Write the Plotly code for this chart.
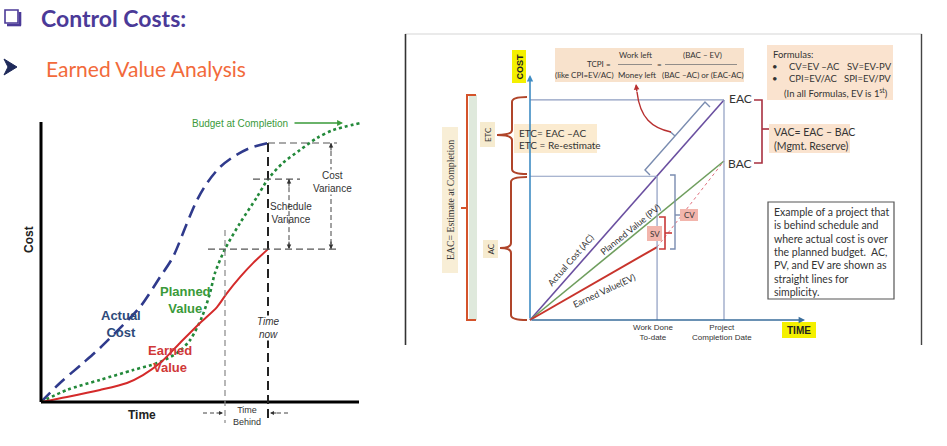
import plotly.graph_objects as go

# ---------------- Left chart data (S-curves; time in weeks, cost in % of budget) ----------------
s_ac_time = [0, 1.9, 4.2, 5.9, 7.9, 9.9, 11.9, 13.2, 14.6, 15.6, 16.6, 17.9, 19.2, 20.9, 22.7]
s_ac_cost = [0, 6.8, 13.9, 19.3, 26.4, 33.9, 44.6, 51.8, 63.9, 72.1, 78.2, 83.9, 87.5, 90.7, 92.5]
s_pv_time = [0, 2.6, 5.9, 9.2, 11.6, 13.6, 14.9, 16.1, 16.9, 17.4, 18.4, 19.9, 21.6, 22.7, 24.2, 25.9, 27.6, 29.2, 31.9]
s_pv_cost = [0, 4.3, 7.9, 11.4, 13.9, 17.5, 22.1, 30.4, 38.9, 46.1, 54.6, 63.9, 73.2, 79.6, 85.4, 90.0, 94.3, 97.1, 99.6]
s_ev_time = [0, 2.6, 5.9, 8.6, 10.2, 11.9, 13.9, 15.9, 17.6, 18.6, 19.9, 21.2, 22.7]
s_ev_cost = [0, 1.8, 4.3, 6.8, 9.6, 13.9, 21.1, 28.2, 33.9, 38.9, 44.6, 49.6, 54.6]
s_time_now = 22.7
s_time_behind = 18.4
s_labels = ["Actual<br>Cost", "Planned<br>Value", "Earned<br>Value"]

# ---------------- Right chart data (straight-line illustration) ----------------
r_time = [0, 6.55, 10]          # start, work done to date, project completion
r_ac = [0, 90.4, 138.4]         # actual cost -> EAC
r_pv = [0, 65.5, 100]           # planned value -> BAC
r_ev_time = [0, 6.55]
r_ev = [0, 45.9]
r_fc_time = [6.55, 10]
r_fc = [45.9, 100]
r_line_labels = ["Actual Cost (AC)", "Planned Value (PV)", "Earned Value(EV)"]

W, H = 947, 446

# pixel -> axis-unit helpers used only to place decorations
def LX(px): return (px - 41) / 10.0
def LY(py): return (402 - py) / 2.8
def RX(px): return (px - 530) / 19.4
def RY(py): return (320 - py) / 1.59
def PX(px): return px / W
def PY(py): return 1 - py / H

REF = {"l": ("x", "y", LX, LY), "r": ("x2", "y2", RX, RY), "p": ("paper", "paper", PX, PY)}
NPTS = {"M": 1, "L": 1, "Q": 2, "C": 3}

shapes, anns = [], []

def seg(ref, x0, y0, x1, y1, color, width=1.0, dash=None, pix=True):
    xr, yr, fx, fy = REF[ref]
    if pix:
        x0, x1, y0, y1 = fx(x0), fx(x1), fy(y0), fy(y1)
    shapes.append(dict(type="line", xref=xr, yref=yr, x0=x0, y0=y0, x1=x1, y1=y1,
                       line=dict(color=color, width=width, dash=dash)))

def box(ref, x0, y0, x1, y1, fill, line=None, lw=0, layer="above"):
    xr, yr, fx, fy = REF[ref]
    shapes.append(dict(type="rect", xref=xr, yref=yr, x0=fx(x0), y0=fy(y0), x1=fx(x1), y1=fy(y1),
                       fillcolor=fill, layer=layer,
                       line=dict(color=line or fill, width=lw)))

def path(ref, cmds, color, width=1.5, fill=None):
    xr, yr, fx, fy = REF[ref]
    s = ""
    for c, pts in cmds:
        n = NPTS[c]
        for i in range(0, len(pts), n):
            grp = pts[i:i + n]
            s += c + " " + " ".join("%.5f,%.5f" % (fx(x), fy(y)) for x, y in grp) + " "
    if fill:
        s += "Z"
    shapes.append(dict(type="path", xref=xr, yref=yr, path=s.strip(), fillcolor=fill,
                       line=dict(color=color, width=width)))

def txt(ref, text, x, y, size=10, color="#333", family="Liberation Sans", xanchor="center",
        angle=0, bg=None, pix=True, yanchor="middle"):
    xr, yr, fx, fy = REF[ref]
    if pix:
        x, y = fx(x), fy(y)
    anns.append(dict(text=text, x=x, y=y, xref=xr, yref=yr, showarrow=False, xanchor=xanchor,
                     yanchor=yanchor, textangle=angle, bgcolor=bg, borderpad=0,
                     font=dict(size=size, color=color, family=family)))

def arrow(ref, x, y, ax, ay, color, width=1.0, head=2, size=1.0, pix=True, axpix=False):
    xr, yr, fx, fy = REF[ref]
    if pix:
        x, y = fx(x), fy(y)
        if not axpix:
            ax, ay = fx(ax), fy(ay)
    d = dict(text="", x=x, y=y, xref=xr, yref=yr, ax=ax, ay=ay, showarrow=True,
             arrowhead=head, arrowsize=size, arrowwidth=width, arrowcolor=color)
    if not axpix:
        d.update(axref=xr, ayref=yr)
    anns.append(d)

fig = go.Figure()

# ---------------- traces: left chart ----------------
fig.add_trace(go.Scatter(x=s_ac_time, y=s_ac_cost, mode="lines", xaxis="x", yaxis="y",
                         line=dict(color="#2f3a8c", width=2.6, dash="13px,7px", shape="spline", smoothing=0.8)))
fig.add_trace(go.Scatter(x=s_pv_time, y=s_pv_cost, mode="lines", xaxis="x", yaxis="y",
                         line=dict(color="#23893a", width=2.6, dash="3px,3px", shape="spline", smoothing=0.8)))
fig.add_trace(go.Scatter(x=s_ev_time, y=s_ev_cost, mode="lines", xaxis="x", yaxis="y",
                         line=dict(color="#d42a2a", width=2, shape="spline", smoothing=0.8)))

# ---------------- traces: right chart ----------------
fig.add_trace(go.Scatter(x=r_time, y=r_ac, mode="lines", xaxis="x2", yaxis="y2",
                         line=dict(color="#6a4fa0", width=1.6)))
fig.add_trace(go.Scatter(x=r_time, y=r_pv, mode="lines", xaxis="x2", yaxis="y2",
                         line=dict(color="#6f9e5e", width=1.6)))
fig.add_trace(go.Scatter(x=r_ev_time, y=r_ev, mode="lines", xaxis="x2", yaxis="y2",
                         line=dict(color="#c8342c", width=2)))
fig.add_trace(go.Scatter(x=r_fc_time, y=r_fc, mode="lines", xaxis="x2", yaxis="y2",
                         line=dict(color="#e0707e", width=1, dash="3px,3px")))

# ---------------- header ----------------
box("p", 5, 10, 18, 23, "rgba(0,0,0,0)", "#4b3a98", 1.6)
seg("p", 20, 12, 20, 25.5, "#4b3a98", 2.6)
seg("p", 7, 25, 21, 25, "#4b3a98", 2.6)
txt("p", "<b>Control Costs:</b>", 40, 18, size=23, color="#4b3a98", family="Lato", xanchor="left")
path("p", [("M", [(4, 59)]), ("L", [(17, 67), (4, 75), (8, 67)])], "#1f2a5a", 1, fill="#1f2a5a")
txt("p", "Earned Value Analysis", 45, 68, size=21, color="#f26a3b", family="Lato", xanchor="left")

# ---------------- left chart decorations ----------------
seg("l", 0, 0, 0, 100, "black", 3, pix=False)
seg("l", 0, 0, LX(359), 0, "black", 3, pix=False)

ac_now = s_ac_cost[-1]
ev_now = s_ev_cost[-1]
pv_now = s_pv_cost[s_pv_time.index(s_time_now)]

seg("l", s_time_now, ac_now, s_time_now, LY(423), "#222", 2, "9px,5px", pix=False)
seg("l", s_time_behind, LY(230), s_time_behind, LY(423), "#888", 1.2, "6px,4px", pix=False)
seg("l", s_time_now, ac_now, LX(337), ac_now, "#555", 1.2, "7px,4px", pix=False)
seg("l", LX(253), pv_now, LX(300), pv_now, "#555", 1.2, "7px,4px", pix=False)
seg("l", LX(208), ev_now, LX(337), ev_now, "#555", 1.2, "7px,4px", pix=False)
# cost variance / schedule variance double arrows
for xv, ytop in [(LX(331), ac_now), (LX(289), pv_now)]:
    seg("l", xv, ytop, xv, ev_now, "#444", 1, "5px,3px", pix=False)
    arrow("l", xv, ytop, 0, 9, "#333", 1, 2, 0.9, pix=False, axpix=True)
    arrow("l", xv, ev_now, 0, -9, "#333", 1, 2, 0.9, pix=False, axpix=True)

txt("l", "<b>Cost</b>", 29, 240, size=12, color="#222", angle=-90)
txt("l", "<b>Time</b>", 142, 415, size=12, color="#222")
txt("l", "Budget at Completion", 240, 123, size=10, color="#3a9a3a")
arrow("l", 343, 123, 293, 123, "#3a9a3a", 1.3, 2, 0.9)
txt("l", "<b>" + s_labels[0] + "</b>", 121, 324, size=13, color="#2e4a7a")
txt("l", "<b>" + s_labels[1] + "</b>", 185, 300, size=13, color="#3a9a3a")
txt("l", "<b>" + s_labels[2] + "</b>", 170, 359, size=13, color="#d03838")
txt("l", "Cost<br>Variance", 332, 182, size=10, color="#333", bg="white")
txt("l", "Schedule<br>Variance", 291, 213, size=10, color="#333")
txt("l", "<i>Time<br>now</i>", 268, 328, size=10, color="#333", bg="white")
txt("l", "Time<br>Behind", 247, 416, size=9, color="#333")
seg("l", 203, 413, 216, 413, "#444", 1, "4px,3px")
arrow("l", 223, 413, 215, 413, "#333", 1, 2, 0.8)
seg("l", 288, 413, 276, 413, "#444", 1, "4px,3px")
arrow("l", 270, 413, 278, 413, "#333", 1, 2, 0.8)

# ---------------- right chart decorations ----------------
seg("p", 405, 34, 922, 34, "#d6d6d6", 1.2)
seg("p", 405.5, 34, 405.5, 345, "#333", 1.6)
seg("p", 921.5, 34, 921.5, 345, "#444", 1.4)

grid = "#8d9cc0"
seg("r", 0, r_ac[-1], r_time[-1], r_ac[-1], grid, 1.2, pix=False)
seg("r", r_time[-1], 0, r_time[-1], r_ac[-1], grid, 1.2, pix=False)
seg("r", 0, r_ac[1], r_time[1], r_ac[1], grid, 1.2, pix=False)
seg("r", r_time[1], 0, r_time[1], r_ac[1], grid, 1.2, pix=False)
# axes arrows
arrow("r", 0, RY(75), 0, 0, "#3f8cc4", 1.6, 2, 0.8, pix=False)
arrow("r", RX(805), 0, 0, 0, "#3a6e9c", 1.6, 2, 0.8, pix=False)

# COST / TIME tags
box("r", 512, 50, 526, 83, "#f4f000")
txt("r", "<b>COST</b>", 519, 66.5, size=9, color="#222", angle=-90)
box("r", 782, 322, 816, 338, "#f4f000")
txt("r", "<b>TIME</b>", 799, 330, size=10, color="#222")
txt("r", "Work Done<br>To-date", 653, 332, size=8, color="#333")
txt("r", "Project<br>Completion Date", 722, 332, size=8, color="#333")

# line labels (rotated along lines)
txt("r", r_line_labels[0], 570, 260, size=9, color="#333", angle=-49, family="Lato")
txt("r", r_line_labels[1], 630, 229, size=9, color="#333", angle=-39, family="Lato")
txt("r", r_line_labels[2], 604, 290, size=9, color="#333", angle=-25, family="Lato")

# EAC / BAC labels + VAC bracket
txt("r", "EAC", 740, 98, size=12, color="#333", family="Lato")
txt("r", "BAC", 740, 163, size=12, color="#333", family="Lato")
path("r", [("M", [(754, 100)]), ("L", [(762, 100), (762, 163), (754, 163)])], "#a83040", 1.6)
seg("r", 762, 129, 770, 129, "#a83040", 1.6)
box("r", 769, 124, 850, 153, "#fae3cf")
txt("r", "VAC= EAC – BAC", 773, 132, size=10.5, color="#333", family="Lato", xanchor="left")
txt("r", "(Mgmt. Reserve)", 773, 146, size=10.5, color="#333", family="Lato", xanchor="left")

# Formulas box
box("r", 767, 45, 893, 100, "#fae3cf")
txt("r", "Formulas:", 772, 54, size=9.5, color="#333", family="Lato", xanchor="left")
txt("r", "•", 775, 66, size=9.5, color="#333", family="Lato")
txt("r", "CV=EV –AC", 788, 66, size=9.5, color="#333", family="Lato", xanchor="left")
txt("r", "SV=EV-PV", 846, 66, size=9.5, color="#333", family="Lato", xanchor="left")
txt("r", "•", 775, 78, size=9.5, color="#333", family="Lato")
txt("r", "CPI=EV/AC", 788, 78, size=9.5, color="#333", family="Lato", xanchor="left")
txt("r", "SPI=EV/PV", 843, 78, size=9.5, color="#333", family="Lato", xanchor="left")
txt("r", "(In all Formulas, EV is 1<sup>st</sup>)", 783, 92, size=9.5, color="#333", family="Lato", xanchor="left")

# TCPI box
box("r", 555, 48, 744, 82, "#f8e2cc")
txt("r", "TCPI =", 599, 64, size=8, family="Lato")
txt("r", "(like CPI=EV/AC)", 584, 75, size=8, family="Lato")
txt("r", "Work left", 635, 55, size=8, family="Lato")
seg("r", 618, 64.5, 652, 64.5, "#777", 0.8)
txt("r", "Money left", 637, 75, size=8, family="Lato")
txt("r", "=", 659, 64, size=8, family="Lato")
txt("r", "(BAC – EV)", 702, 55, size=8, family="Lato")
seg("r", 665, 64.5, 737, 64.5, "#777", 0.8)
txt("r", "(BAC –AC) or (EAC-AC)", 703, 75, size=8, family="Lato")

# bracket along AC line + red curved arrow to TCPI
bc = "#7a8cb0"
path("r", [("M", [(650, 175)]), ("L", [(645, 170), (705, 102), (710, 107)])], bc, 1.4)
seg("r", 675, 136, 670, 131.5, bc, 1.4)
path("r", [("M", [(671, 132)]), ("C", [(652, 128), (640, 118), (637, 92)])], "#b83030", 1.4)
arrow("r", 636, 84, 637, 93, "#b83030", 1.4, 2, 0.8)

# SV bracket and box
sc = "#c83838"
path("r", [("M", [(659, 217)]), ("L", [(665, 217), (665, 249), (659, 249)])], sc, 1.6)
seg("r", 665, 233, 672, 233, sc, 1.6)
box("r", 647, 226, 662, 241, "#f2b5ac")
txt("r", "SV", 654.5, 233.5, size=8, family="Lato")
# CV bracket and box
path("r", [("M", [(670, 175)]), ("L", [(675, 175), (675, 249), (670, 249)])], bc, 1.4)
seg("r", 675, 215, 680, 215, bc, 1.4)
box("r", 680, 209, 698, 221, "#f2b5ac")
txt("r", "CV", 689, 215, size=8, family="Lato")

# Example text box
box("r", 768, 202, 894, 299, "white", "#555", 1.2)
ex_lines = ["Example of a project that", "is behind schedule and", "where actual cost is over",
            "the planned budget.  AC,", "PV, and EV are shown as", "straight lines for", "simplicity."]
for i, s in enumerate(ex_lines):
    txt("r", s, 773, 212 + i * 13.35, size=10.5, color="#333", family="Lato", xanchor="left")

# ETC box, braces and labels
box("r", 514, 124, 597, 153, "#fbebd0")
txt("r", "ETC= EAC –AC", 518, 133, size=10, family="Lato", xanchor="left")
txt("r", "ETC = Re-estimate", 518, 145, size=10, family="Lato", xanchor="left")
brc = "#b0452a"

def brace(y0, y1, ym, xr, xs, xt):
    r = 5
    path("r", [("M", [(xr, y0)]), ("Q", [(xs, y0), (xs, y0 + r)]), ("L", [(xs, ym - r)]),
               ("Q", [(xs, ym), (xt, ym)]), ("Q", [(xs, ym), (xs, ym + r)]), ("L", [(xs, y1 - r)]),
               ("Q", [(xs, y1), (xr, y1)])], brc, 2)

brace(97, 174, 135, 527, 512, 497)
brace(177, 320, 248, 527, 511, 500)
box("r", 480, 122, 495, 147, "#f6ebcf")
txt("r", "ETC", 487.5, 134.5, size=8, family="Lato", angle=-90)
box("r", 483, 240, 498, 258, "#f6ebcf")
txt("r", "AC", 490.5, 249, size=8, family="Lato", angle=-90)

# EAC big bracket with green bar
box("r", 469, 95, 477, 320, "#dfe9dc")
path("r", [("M", [(476, 95)]), ("L", [(467, 95), (467, 320), (476, 320)])], "#d4532b", 2)
seg("r", 467, 208, 461, 208, "#d4532b", 2)
box("r", 442, 127, 458, 273, "#f8eed6")
txt("r", "EAC= Estimate at Completion", 450, 200, size=9.8, family="Liberation Serif", angle=-90)

axis_off = dict(showgrid=False, zeroline=False, showticklabels=False, ticks="", showline=False,
                fixedrange=True)
fig.update_layout(
    width=W, height=H, margin=dict(l=0, r=0, t=0, b=0),
    paper_bgcolor="white", plot_bgcolor="rgba(0,0,0,0)", showlegend=False,
    xaxis=dict(domain=[20 / W, 372 / W], range=[LX(20), LX(372)], anchor="y", **axis_off),
    yaxis=dict(domain=[PY(432), PY(110)], range=[LY(432), LY(110)], anchor="x", **axis_off),
    xaxis2=dict(domain=[405 / W, 922 / W], range=[RX(405), RX(922)], anchor="y2", **axis_off),
    yaxis2=dict(domain=[PY(345), PY(34)], range=[RY(345), RY(34)], anchor="x2", **axis_off),
    shapes=shapes, annotations=anns,
)

fig.write_html("out.html", config={"displayModeBar": False},
               post_script="document.body.style.margin='0';document.body.style.overflow='hidden';")
